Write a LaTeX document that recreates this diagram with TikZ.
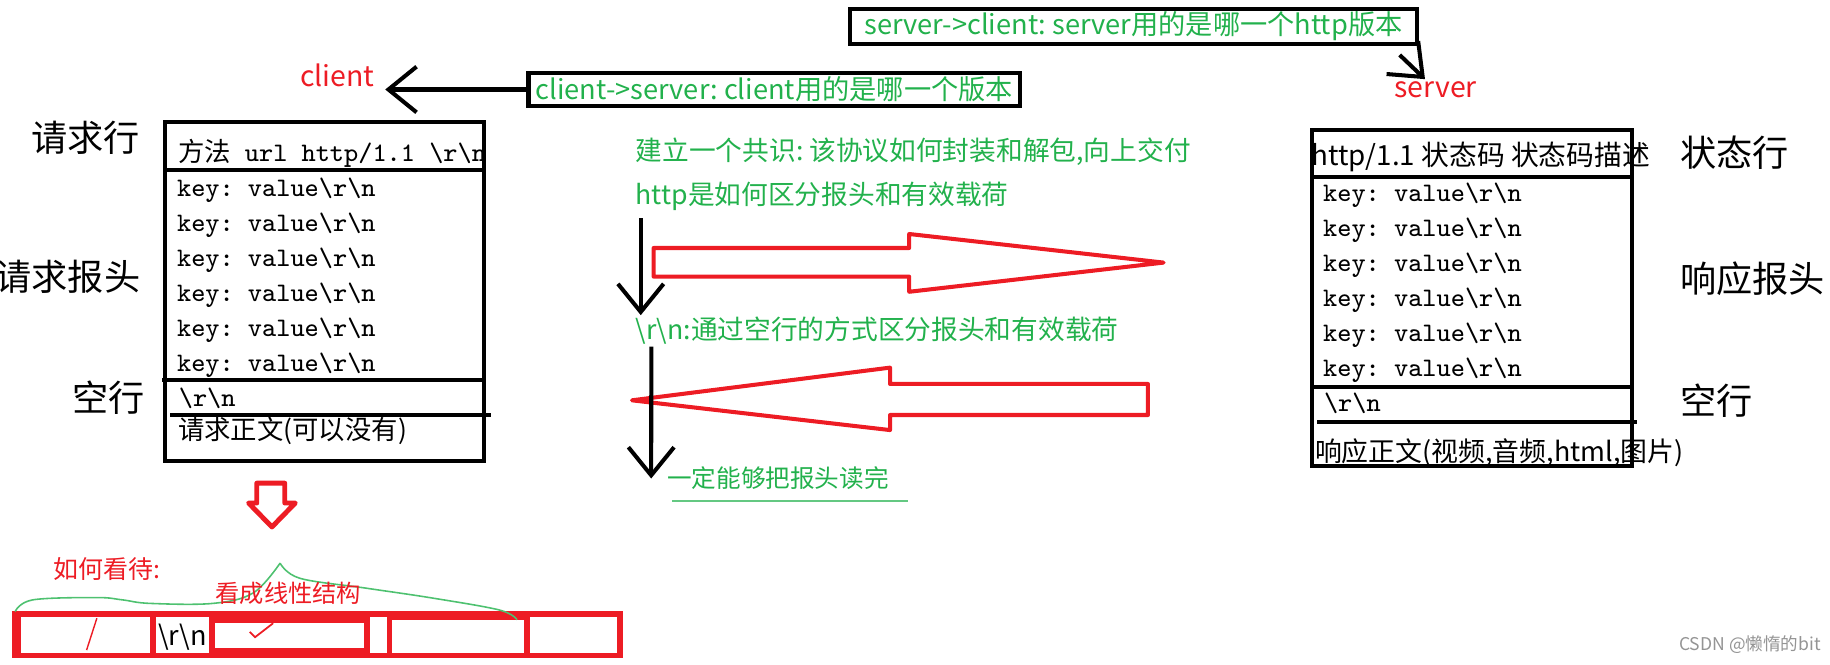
\documentclass[tikz,border=0pt]{standalone}
\usepackage{fontspec}
\newfontfamily\cjk{Noto Sans CJK SC}
\usetikzlibrary{arrows.meta}
\definecolor{pred}{RGB}{237,28,36}
\definecolor{pgreen}{RGB}{34,177,76}

\begin{document}
\frenchspacing
\begin{tikzpicture}[x=0.011671cm, y=-0.011671cm, line width=1.15pt,
    >={Straight Barb[length=8pt,width=13pt]},
    sidelbl/.style={inner sep=0pt, font=\cjk\fontsize{10.3}{12}\selectfont},
    rowtxt/.style={anchor=base west, inner sep=0pt, font=\ttfamily\fontsize{7.6}{9}\selectfont},
    cjkrow/.style={anchor=base west, inner sep=0pt, font=\cjk\fontsize{7.9}{9}\selectfont},
    greennote/.style={anchor=west, inner sep=0pt, text=pgreen, font=\cjk\fontsize{7.6}{9}\selectfont},
    redtag/.style={inner sep=0pt, text=pred, font=\cjk\fontsize{8.1}{9}\selectfont},
    msgbox/.style={draw, line width=1.2pt, inner sep=0pt, text=pgreen, font=\cjk\fontsize{7.75}{9}\selectfont},
    hollowarrow/.style={draw=pred, line width=1.15pt, line join=round}]

    \useasboundingbox (0,0) rectangle (1568,569);

    % --- client / server e messaggi in alto ---
    \node[redtag] (client) at (289,65) {client};
    \node[redtag] (server) at (1230,76.5) {server};
    \node[msgbox, minimum width=139.9pt, minimum height=9.4pt] (cs) at (663.5,76.7)
        {client->server: client用的是哪一个版本};
    \node[msgbox, minimum width=161.3pt, minimum height=10pt] (sc) at (971.2,22.7)
        {server->client: server用的是哪一个http版本};

    \draw[->] (cs.west) -- ([xshift=2.5pt]client.east |- cs.west);
    \draw[->] ([xshift=-5.5pt,yshift=-2.5pt]sc.south east) -- ([xshift=-3pt]server.north);

    % --- Richiesta (sinistra) ---
    \node[sidelbl, anchor=east] (reqline) at (121.5,118) {请求行};
    \node[sidelbl, anchor=east] (reqhead) at (122,237) {请求报头};
    \node[sidelbl, anchor=east] (reqblank) at (126,341) {空行};

    \node[rowtxt] (reqrow) at (150.8,138.8) {{\cjk\fontsize{7.5}{9}\selectfont 方法} url http/1.1 \textbackslash r\textbackslash n};
    \foreach \i in {0,...,5} {
        \node[rowtxt] (reqkey\i) at (150,168.5+30*\i) {key: value\textbackslash r\textbackslash n};
    }
    \node[rowtxt] (reqcrlf) at (151.5,348) {\textbackslash r\textbackslash n};
    \node[cjkrow, font=\cjk\fontsize{7.5}{9}\selectfont] (reqbody) at (151,377) {请求正文(可以没有)};

    \draw (141.4,104.5) rectangle (414.7,394.7);
    \draw (141.4,146) -- (414.7,146);
    \draw (139,326) -- (414.7,326);
    \draw (145.7,355.6) -- (420.6,355.6);

    % --- Risposta (destra) ---
    \node[sidelbl, anchor=west] (stline) at (1438,131) {状态行};
    \node[sidelbl, anchor=west] (rsphead) at (1438,238.5) {响应报头};
    \node[sidelbl, anchor=west] (rspblank) at (1438,343) {空行};

    \node[cjkrow] (strow) at (1122,141.4) {http/1.1 状态码 状态码描述};
    \foreach \i in {0,...,5} {
        \node[rowtxt] (rspkey\i) at (1132,172.8+30*\i) {key: value\textbackslash r\textbackslash n};
    }
    \node[rowtxt] (rspcrlf) at (1132.7,352.7) {\textbackslash r\textbackslash n};
    \node[cjkrow, font=\cjk\fontsize{7.65}{9}\selectfont] (rspbody) at (1125,395.6) {响应正文(视频,音频,html,图片)};

    \draw (1124,111.4) rectangle (1398,399);
    \draw (1124,152) -- (1398,152);
    \draw (1122.5,331.5) -- (1398,331.5);
    \draw (1128.5,361.3) -- (1402.6,361.3);

    % --- Note centrali ---
    \node[greennote] (q1) at (543,130) {建立一个共识: 该协议如何封装和解包,向上交付};
    \node[greennote] (q2) at (543,168.5) {http是如何区分报头和有效载荷};
    \node[greennote] (q3) at (543,283.5) {\textbackslash r\textbackslash n:通过空行的方式区分报头和有效载荷};
    \node[greennote, font=\cjk\fontsize{7}{8}\selectfont] (q4) at (570,410) {一定能够把报头读完};
    \draw[pgreen!70, line width=0.4pt] ([xshift=2pt,yshift=-2.5pt]q4.south west) -- ([xshift=5pt,yshift=-2.5pt]q4.south east);

    % frecce rosse (vuote)
    \draw[hollowarrow] (560,212.5) -- (779,212.5) -- (779,200.5) -- (997,225)
        -- (779,250) -- (779,237) -- (560,237) -- cycle;
    \draw[hollowarrow] (541.5,343) -- (762.6,315) -- (762.6,329) -- (983.6,329)
        -- (983.6,355.6) -- (762.6,355.6) -- (762.6,368.5) -- cycle;

    % frecce nere verticali
    \draw[->] ([xshift=2pt,yshift=-1.5pt]q2.south west) -- ([xshift=2pt]q3.north west);
    \draw[->] ([xshift=5pt]q3.south west) -- ([xshift=-4pt]q4.west);

    % --- Struttura lineare (in basso) ---
    \draw[hollowarrow, line width=1.4pt] (220,414) -- (244,414) -- (244,431) -- (253,431)
        -- (233,451.5) -- (213,431) -- (220,431) -- cycle;

    \node[redtag, anchor=west, font=\cjk\fontsize{7.1}{9}\selectfont] (howsee) at (44,488) {如何看待:};

    \fill[pred] (10,523.6) rectangle (534,564);
    \foreach \xa / \xb / \ya / \yb in {
        18    / 128.5 / 528.4 / 559.8,
        133.4 / 179.3 / 528.4 / 559.8,
        184.2 / 311.9 / 533.5 / 555.5,
        317   / 331.3 / 528.4 / 559.8,
        335.6 / 449   / 531.2 / 559.5,
        454   / 528.7 / 528.7 / 559.5
    } {
        \fill[white] (\xa,\ya) rectangle (\xb,\yb);
    }
    \node[inner sep=0pt, font=\cjk\fontsize{7.7}{9}\selectfont] (cellcrlf) at (156.3,546) {\textbackslash r\textbackslash n};
    \draw[pred, line width=0.4pt] (83,529.7) -- (74.2,557);
    \draw[pred, line width=0.5pt] (214,541.5) -- (218.5,546) -- (234,534);

    \draw[pgreen!80, line width=0.45pt] plot[smooth, tension=0.6] coordinates
        {(13,524) (28,514) (83,512) (105,514) (128.5,517) (182.5,517) (217,508) (240,482.5)};
    \draw[pgreen!80, line width=0.45pt] plot[smooth, tension=0.6] coordinates
        {(240,482.5) (257,495.5) (314,504) (371,512.5) (428,522.7) (443,531)};

    \node[redtag, anchor=west, font=\cjk\fontsize{6.9}{8}\selectfont] (linear) at (183,508) {看成线性结构};

    % --- Firma ---
    \node[anchor=west, inner sep=0pt, text=black!42, font=\cjk\fontsize{5}{6}\selectfont] (mark) at (1437,552.6) {CSDN @懒惰的bit};

\end{tikzpicture}
\end{document}
